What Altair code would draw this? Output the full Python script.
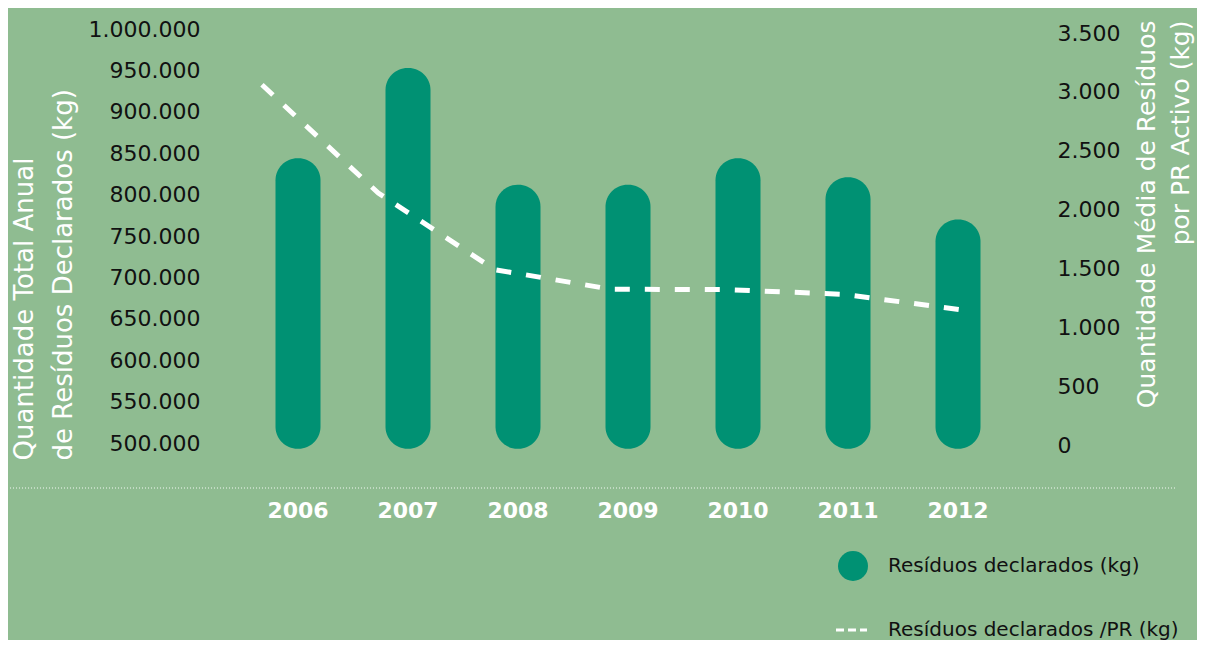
import altair as alt
import pandas as pd

# ---- data ----
years = ["2006", "2007", "2008", "2009", "2010", "2011", "2012"]
residuos_total = [844000, 953000, 812000, 812000, 844000, 821000, 770000]
residuos_por_pr = [3060, 2140, 1490, 1323, 1320, 1280, 1150]
left_ticks = [500000, 550000, 600000, 650000, 700000, 750000, 800000,
              850000, 900000, 950000, 1000000]
right_ticks = [0, 500, 1000, 1500, 2000, 2500, 3000, 3500]
left_title = ["Quantidade Total Anual", "de Resíduos Declarados (kg)"]
right_title = ["Quantidade Média de Resíduos", "por PR Activo (kg)"]
legend_labels = ["Resíduos declarados (kg)", "Resíduos declarados /PR (kg)"]

df = pd.DataFrame({
    "ano": years,
    "ano_num": [int(y) for y in years],
    "total": residuos_total,
    "por_pr": residuos_por_pr,
})
one = pd.DataFrame({"k": [0]})

FONT = "DejaVu Sans"
BG = "#8FBC91"
BAR = "#009173"
dot_fmt = "replace(format(datum.value, ',d'), regexp(',', 'g'), '.')"

bars = alt.Chart(df).mark_bar(size=45, cornerRadius=22, color=BAR, clip=False).encode(
    x=alt.X("ano:N", sort=years,
            scale=alt.Scale(paddingInner=0.5, paddingOuter=0.5227),
            axis=alt.Axis(title=None, domain=False, ticks=False, labelAngle=0,
                          labelColor="white", labelFontWeight="bold",
                          labelFontSize=22, labelFont=FONT, labelPadding=57)),
    y=alt.Y("total:Q",
            scale=alt.Scale(domain=[500000, 1000000], zero=False, nice=False),
            axis=alt.Axis(values=left_ticks, labelExpr=dot_fmt, orient="left",
                          domain=False, ticks=False, grid=False,
                          labelColor="#111111", labelFontSize=22, labelFont=FONT,
                          labelPadding=13,
                          title=left_title, titleColor="white", titleFont=FONT,
                          titleFontSize=26, titleFontWeight="normal",
                          titleAngle=-90, titleAlign="left", titleBaseline="top",
                          titleLineHeight=39, titleX=-202, titleY=431)),
    y2=alt.datum(493000),
)

line = alt.Chart(df).mark_line(color="white", strokeWidth=5, strokeDash=[15, 15],
                               clip=False).encode(
    x=alt.X("ano_num:Q", scale=alt.Scale(domain=[2005.579, 2012.714], nice=False,
                                         zero=False), axis=None),
    y=alt.Y("por_pr:Q", scale=alt.Scale(domain=[0, 3500], range=[416, 4], nice=False),
            axis=alt.Axis(values=right_ticks, labelExpr=dot_fmt, orient="right",
                          domain=False, ticks=False, grid=False,
                          labelColor="#111111", labelFontSize=22, labelFont=FONT,
                          labelPadding=14,
                          title=right_title, titleColor="white", titleFont=FONT,
                          titleFontSize=25, titleFontWeight="normal",
                          titleAngle=-90, titleAlign="right", titleBaseline="top",
                          titleLineHeight=34, titleX=91, titleY=-9)),
)

sep = alt.Chart(one).mark_rule(color="white", strokeWidth=1, strokeDash=[1, 2],
                               opacity=0.9).encode(
    x=alt.value(-203), x2=alt.value(962), y=alt.value(459))

leg_circle = alt.Chart(one).mark_circle(size=900, color=BAR, opacity=1).encode(
    x=alt.value(640), y=alt.value(537))
leg_dash = alt.Chart(one).mark_rule(color="white", strokeWidth=3,
                                    strokeDash=[8, 4]).encode(
    x=alt.value(623), x2=alt.value(654), y=alt.value(601))
leg_t1 = alt.Chart(one).mark_text(align="left", baseline="middle", fontSize=20,
                                  font=FONT, color="#111111").encode(
    x=alt.value(675), y=alt.value(537), text=alt.value(legend_labels[0]))
leg_t2 = alt.Chart(one).mark_text(align="left", baseline="middle", fontSize=20,
                                  font=FONT, color="#111111").encode(
    x=alt.value(675), y=alt.value(601), text=alt.value(legend_labels[1]))

chart = alt.layer(bars, line, sep, leg_circle, leg_dash, leg_t1, leg_t2).resolve_scale(
    y="independent", x="independent"
).properties(
    width=830, height=414,
    autosize=alt.AutoSizeParams(type="none"),
    padding={"left": 205, "top": 21, "right": 154, "bottom": 197},
    background=BG,
).configure_view(stroke=None)

chart.save("out.html", embed_options={"renderer": "svg", "actions": False})
